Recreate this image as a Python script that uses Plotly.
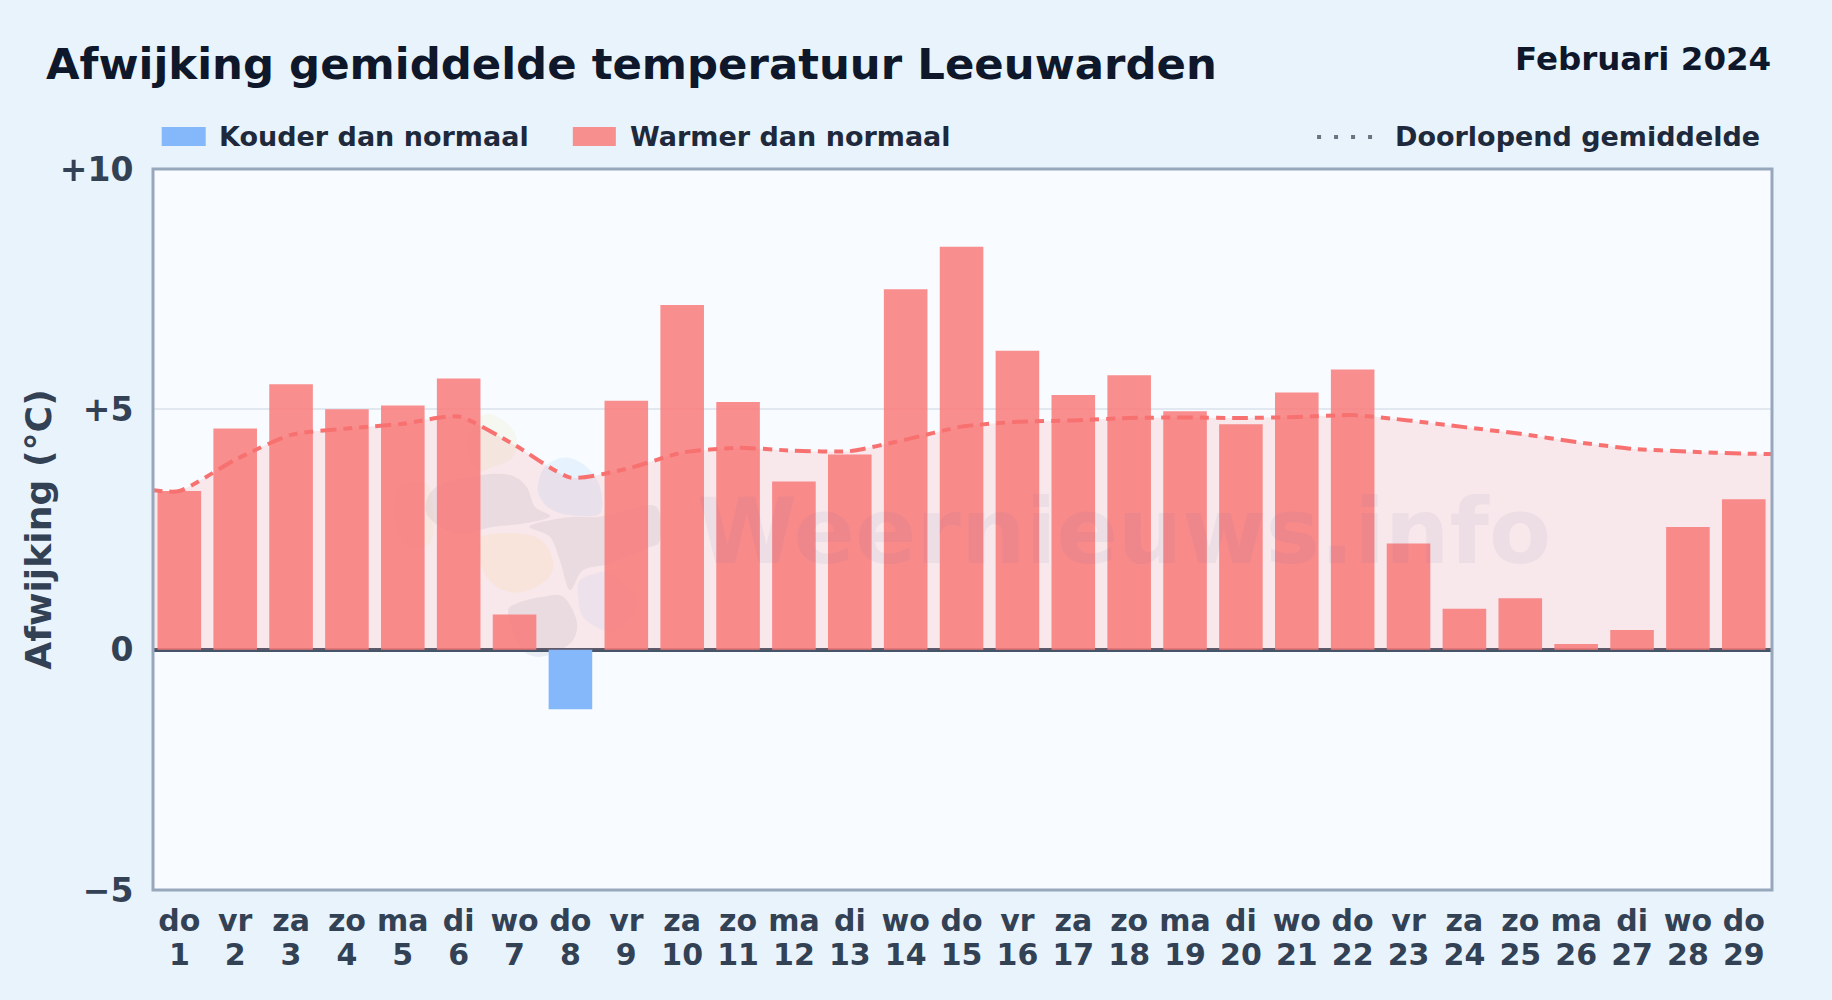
import plotly.graph_objects as go

# ---- data ----
days = list(range(1, 30))
weekdays = ["do","vr","za","zo","ma","di","wo","do","vr","za","zo","ma","di","wo","do",
            "vr","za","zo","ma","di","wo","do","vr","za","zo","ma","di","wo","do"]
warm_values = [3.30,4.60,5.52,5.00,5.08,5.64,0.73,None,5.18,7.17,5.15,3.50,4.06,7.50,8.38,
               6.22,5.30,5.71,4.96,4.69,5.35,5.83,2.21,0.85,1.07,0.12,0.41,2.55,3.13]
cold_values = [None,None,None,None,None,None,None,-1.24,None,None,None,None,None,None,None,
               None,None,None,None,None,None,None,None,None,None,None,None,None,None]
running_mean = [3.30,3.95,4.47,4.60,4.70,4.85,4.26,3.58,3.76,4.10,4.20,4.14,4.13,4.37,4.64,
                4.74,4.77,4.82,4.83,4.82,4.84,4.88,4.77,4.63,4.49,4.32,4.18,4.12,4.08]
line_start_x, line_end_x = 0.5, 29.5
line_start_y, line_end_y = 3.32, 4.07
y_ticks = [-5, 0, 5, 10]
y_labels = ["\u22125", "0", "+5", "+10"]

# ---- layout constants ----
W, H = 1832, 1000
L, R, T, B = 153.3, 1771.8, 168.9, 889.9
FONT = "DejaVu Sans"
def px(x): return (x - L) / (R - L)
def py(y): return 1 - (y - T) / (B - T)

def blob(points, color):
    """Closed smooth outline through pixel points, in paper coordinates (decorative logo)."""
    n = len(points)
    p = [(px(x), py(y)) for x, y in points]
    d = f"M {p[0][0]:.5f},{p[0][1]:.5f}"
    for i in range(n):
        p0, p1, p2, p3 = p[i-1], p[i], p[(i+1) % n], p[(i+2) % n]
        c1 = (p1[0] + (p2[0]-p0[0])/6, p1[1] + (p2[1]-p0[1])/6)
        c2 = (p2[0] - (p3[0]-p1[0])/6, p2[1] - (p3[1]-p1[1])/6)
        d += f" C {c1[0]:.5f},{c1[1]:.5f} {c2[0]:.5f},{c2[1]:.5f} {p2[0]:.5f},{p2[1]:.5f}"
    return dict(type="path", path=d + " Z", xref="paper", yref="paper", layer="below",
                line_width=0, fillcolor=color)

def z(points):  # logo outline points measured in a crop at 3x, origin (370,400)
    return [(370 + x/3, 400 + y/3) for x, y in points]

GRAY = "rgba(100,116,150,0.10)"
shapes = [
    blob(z([(200,260),(335,225),(420,225),(470,260),(495,320),(540,350),(450,372),(370,380),(260,400),(170,340)]), GRAY),
    blob(z([(590,352),(690,350),(770,330),(860,320),(870,420),(830,445),(720,490),(640,510),(600,570),(570,480),(540,410),(480,378)]), GRAY),
    blob(z([(415,640),(440,610),(520,590),(580,590),(620,660),(610,720),(560,755),(500,770),(450,740)]), GRAY),
    blob(z([(505,250),(530,195),(590,172),(650,200),(690,260),(690,340),(600,345),(540,325),(510,290)]), "rgba(125,200,250,0.15)"),
    blob(z([(340,45),(400,60),(440,110),(430,170),(370,200),(320,210),(290,130)]), "rgba(225,238,170,0.17)"),
    blob(z([(335,410),(450,400),(520,425),(550,490),(530,540),(460,575),(400,570),(350,530),(330,470)]), "rgba(250,225,130,0.14)"),
    blob(z([(630,540),(680,520),(720,520),(800,600),(760,680),(700,690),(640,650),(625,590)]), "rgba(96,165,250,0.08)"),
    blob(z([(90,260),(170,250),(190,340),(180,430),(110,440),(70,350)]), "rgba(250,225,130,0.10)"),
]
# plot frame
shapes.append(dict(type="rect", xref="paper", yref="paper", x0=0, x1=1, y0=0, y1=1, layer="above",
                   line=dict(color="#98a8bc", width=3), fillcolor="rgba(0,0,0,0)"))
# legend swatches
shapes.append(dict(type="rect", xref="paper", yref="paper", line_width=0, fillcolor="#84b8fb",
                   x0=px(162), x1=px(206), y0=py(146), y1=py(127)))
shapes.append(dict(type="rect", xref="paper", yref="paper", line_width=0, fillcolor="#f78f8f",
                   x0=px(573), x1=px(616), y0=py(146), y1=py(127)))
shapes.append(dict(type="line", xref="paper", yref="paper", x0=px(1317), x1=px(1374),
                   y0=py(137), y1=py(137), line=dict(color="#6b7280", width=4, dash="4px,13px")))

def note(text, x, y, size, color, anchor="left", angle=0):
    return dict(text=text, x=px(x), y=py(y), xref="paper", yref="paper", showarrow=False,
                xanchor=anchor, yanchor="middle", textangle=angle,
                font=dict(family=FONT, size=size, color=color, weight=700))

annotations = [
    note("Afwijking gemiddelde temperatuur Leeuwarden", 44, 64, 43.4, "#0f172a"),
    note("Februari 2024", 1773, 58.5, 32.5, "#0f172a", "right"),
    note("Kouder dan normaal", 217, 136, 27, "#1e293b"),
    note("Warmer dan normaal", 628, 136, 27, "#1e293b"),
    note("Doorlopend gemiddelde", 1393, 136, 27, "#1e293b"),
    note("Weernieuws.info", 1124, 531, 90.5, "rgba(90,110,160,0.065)", "center"),
    note("Afwijking (°C)", 38, 530, 36.2, "#334155", "center", -90),
]

fig = go.Figure()
fig.add_trace(go.Bar(x=days, y=warm_values, name="Warmer dan normaal", width=0.78,
                     marker=dict(color="rgba(249,125,125,0.87)", line_width=0)))
fig.add_trace(go.Bar(x=days, y=cold_values, name="Kouder dan normaal", width=0.78,
                     marker=dict(color="#84b8fb", line_width=0)))
fig.add_trace(go.Scatter(x=[line_start_x] + days + [line_end_x],
                         y=[line_start_y] + running_mean + [line_end_y],
                         name="Doorlopend gemiddelde", mode="lines",
                         line=dict(color="#f87171", width=4, shape="spline", smoothing=0.6,
                                   dash="0px,2px,9px,7px,16px,7px,9px,5px"),
                         fill="tozeroy", fillcolor="rgba(248,113,113,0.14)"))
# invisible carrier that keeps the second label row (day numbers) on its own axis
fig.add_trace(go.Scatter(x=days, y=warm_values, xaxis="x2", mode="none", hoverinfo="skip", showlegend=False))

x_range = [0.529, 29.505]
tick_font = dict(family=FONT, size=30, color="#334155", weight=700)
fig.update_layout(
    width=W, height=H, autosize=False, showlegend=False, barmode="overlay",
    margin=dict(l=L, r=W-R, t=T, b=H-B, pad=0),
    paper_bgcolor="#e8f3fc", plot_bgcolor="#f8fbff",
    font=dict(family=FONT, color="#334155"),
    shapes=shapes, annotations=annotations,
    xaxis=dict(range=x_range, tickmode="array", tickvals=days, ticktext=weekdays,
               tickangle=0, showgrid=False, zeroline=False, showline=False,
               ticks="outside", ticklen=4, tickcolor="rgba(0,0,0,0)", tickfont=tick_font),
    xaxis2=dict(range=x_range, overlaying="x", anchor="y", side="bottom", tickmode="array",
                tickvals=days, ticktext=[str(d) for d in days], tickangle=0, showgrid=False,
                zeroline=False, showline=False, ticks="outside", ticklen=38,
                tickcolor="rgba(0,0,0,0)", tickfont=tick_font),
    yaxis=dict(range=[-5, 10], tickmode="array", tickvals=y_ticks, ticktext=y_labels,
               showgrid=True, gridcolor="#e2e8f0", gridwidth=2,
               zeroline=True, zerolinecolor="#475569", zerolinewidth=3.5, showline=False,
               ticks="outside", ticklen=12, tickcolor="rgba(0,0,0,0)",
               tickfont=dict(family=FONT, size=33, color="#334155", weight=700)),
)

fig.write_html("out.html", config={"displayModeBar": False},
               post_script="document.body.style.margin='0';document.body.style.background='#e8f3fc';")
